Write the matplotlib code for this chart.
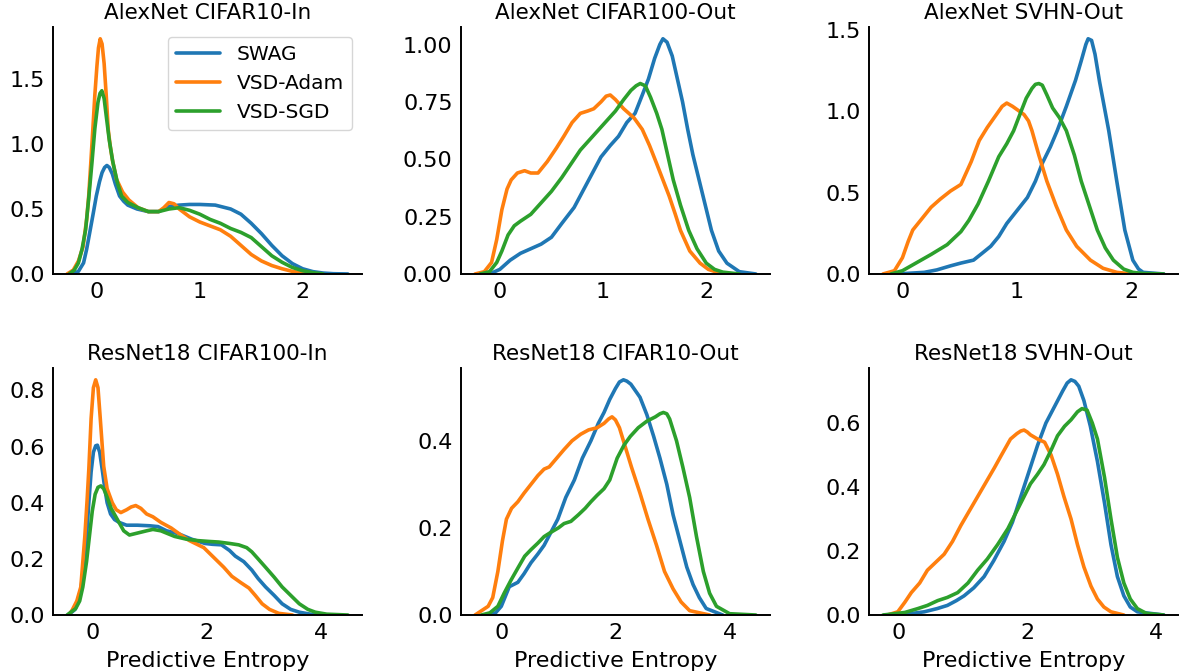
import matplotlib.pyplot as plt
from matplotlib.ticker import MultipleLocator

plt.rcParams['font.family'] = ['DejaVu Sans']

# ---- data (density curves) ----
methods = ['SWAG', 'VSD-Adam', 'VSD-SGD']
colors = ['#1f77b4', '#ff7f0e', '#2ca02c']
titles = ['AlexNet CIFAR10-In', 'AlexNet CIFAR100-Out', 'AlexNet SVHN-Out',
          'ResNet18 CIFAR100-In', 'ResNet18 CIFAR10-Out', 'ResNet18 SVHN-Out']
y_steps = [0.5, 0.25, 0.5, 0.2, 0.2, 0.2]
x_steps = [1, 1, 1, 2, 2, 2]

# AlexNet CIFAR10-In
a10_swag_x = [-0.24, -0.18, -0.13, -0.1, -0.065, -0.035, -0.006, 0.025, 0.05, 0.075, 0.097, 0.12, 0.15,
              0.18, 0.22, 0.26, 0.3, 0.39, 0.5, 0.6, 0.7, 0.8, 0.9, 1.0, 1.15, 1.3, 1.4, 1.5, 1.6, 1.7,
              1.8, 1.9, 2.0, 2.1, 2.2, 2.3, 2.44]
a10_swag_y = [0, 0.02, 0.085, 0.19, 0.34, 0.47, 0.6, 0.71, 0.78, 0.82, 0.835, 0.82, 0.77,
              0.69, 0.6, 0.56, 0.53, 0.5, 0.48, 0.48, 0.52, 0.53, 0.535, 0.535, 0.53, 0.5, 0.46, 0.39, 0.31, 0.22,
              0.14, 0.08, 0.04, 0.018, 0.007, 0.002, 0]
a10_adam_x = [-0.29, -0.23, -0.18, -0.135, -0.1, -0.08, -0.06, -0.04, -0.02, 0, 0.015, 0.032, 0.05, 0.07,
              0.09, 0.11, 0.13, 0.15, 0.19, 0.25, 0.31, 0.4, 0.5, 0.6, 0.65, 0.7, 0.75, 0.8, 0.9, 1.0,
              1.1, 1.2, 1.3, 1.4, 1.5, 1.6, 1.7, 1.8, 1.9, 2.0, 2.1]
a10_adam_y = [0, 0.03, 0.1, 0.21, 0.42, 0.6, 0.85, 1.11, 1.38, 1.6, 1.74, 1.81, 1.77, 1.62,
              1.38, 1.11, 0.98, 0.88, 0.73, 0.63, 0.57, 0.51, 0.48, 0.48, 0.51, 0.55, 0.54, 0.5, 0.44, 0.4,
              0.37, 0.34, 0.29, 0.22, 0.15, 0.1, 0.065, 0.04, 0.02, 0.008, 0]
a10_sgd_x = [-0.27, -0.22, -0.18, -0.145, -0.11, -0.08, -0.048, -0.02, 0.01, 0.03, 0.048, 0.07, 0.09, 0.12,
             0.155, 0.2, 0.24, 0.3, 0.4, 0.5, 0.6, 0.7, 0.8, 0.9, 1.0, 1.1, 1.2, 1.3, 1.4, 1.5, 1.6, 1.7,
             1.8, 1.9, 2.0, 2.1, 2.2]
a10_sgd_y = [0, 0.03, 0.085, 0.19, 0.34, 0.58, 0.86, 1.12, 1.32, 1.39, 1.41, 1.35, 1.22, 1.03,
             0.86, 0.7, 0.6, 0.55, 0.51, 0.48, 0.48, 0.5, 0.51, 0.49, 0.46, 0.42, 0.39, 0.35, 0.32, 0.28, 0.21, 0.14,
             0.09, 0.05, 0.025, 0.01, 0]

# AlexNet CIFAR100-Out
a100_swag_x = [-0.1, 0, 0.1, 0.2, 0.3, 0.4, 0.5, 0.6, 0.72, 0.85, 0.98, 1.07, 1.15, 1.23, 1.31, 1.38,
               1.44, 1.5, 1.55, 1.58, 1.62, 1.67, 1.72, 1.77, 1.82, 1.87, 1.93, 1.99, 2.05, 2.12, 2.2,
               2.32, 2.48]
a100_swag_y = [0, 0.02, 0.06, 0.09, 0.11, 0.13, 0.16, 0.22, 0.29, 0.4, 0.51, 0.56, 0.6, 0.66, 0.7, 0.78,
               0.85, 0.94, 1.0, 1.025, 1.01, 0.95, 0.85, 0.75, 0.63, 0.52, 0.41, 0.3, 0.19, 0.1, 0.047,
               0.01, 0]
a100_adam_x = [-0.24, -0.15, -0.08, -0.03, 0.02, 0.07, 0.11, 0.17, 0.24, 0.3, 0.37, 0.46, 0.55, 0.62,
               0.7, 0.78, 0.85, 0.91, 0.98, 1.03, 1.07, 1.12, 1.2, 1.3, 1.38, 1.45, 1.52, 1.58, 1.64,
               1.7, 1.75, 1.84, 1.94, 2.02, 2.1, 2.2]
a100_adam_y = [0, 0.01, 0.05, 0.15, 0.28, 0.37, 0.41, 0.44, 0.45, 0.44, 0.44, 0.49, 0.55, 0.6,
               0.66, 0.7, 0.71, 0.72, 0.75, 0.775, 0.78, 0.76, 0.72, 0.68, 0.63, 0.56, 0.48, 0.41, 0.34,
               0.26, 0.19, 0.1, 0.047, 0.02, 0.008, 0]
a100_sgd_x = [-0.19, -0.1, -0.03, 0.02, 0.08, 0.14, 0.2, 0.3, 0.4, 0.5, 0.6, 0.69, 0.78, 0.88, 0.96,
              1.04, 1.12, 1.2, 1.27, 1.32, 1.36, 1.41, 1.46, 1.52, 1.57, 1.62, 1.68, 1.75, 1.83, 1.91,
              2.0, 2.08, 2.16, 2.32]
a100_sgd_y = [0, 0.01, 0.05, 0.1, 0.17, 0.21, 0.23, 0.26, 0.31, 0.36, 0.42, 0.48, 0.54, 0.59, 0.63,
              0.67, 0.71, 0.76, 0.8, 0.82, 0.83, 0.82, 0.77, 0.7, 0.63, 0.53, 0.41, 0.3, 0.19, 0.11,
              0.047, 0.02, 0.008, 0]

# AlexNet SVHN-Out
asv_swag_x = [-0.16, 0, 0.19, 0.3, 0.42, 0.51, 0.62, 0.7, 0.77, 0.84, 0.91, 1.0, 1.09, 1.16, 1.22, 1.29,
              1.35, 1.43, 1.51, 1.56, 1.6, 1.62, 1.65, 1.68, 1.72, 1.76, 1.8, 1.87, 1.94, 2.01, 2.06,
              2.1, 2.28]
asv_swag_y = [0, 0.002, 0.01, 0.025, 0.05, 0.067, 0.085, 0.13, 0.17, 0.23, 0.31, 0.39, 0.47, 0.57, 0.68, 0.78,
              0.88, 1.03, 1.19, 1.31, 1.41, 1.445, 1.435, 1.35, 1.18, 1.03, 0.88, 0.57, 0.27, 0.085, 0.03,
              0.01, 0]
asv_adam_x = [-0.17, -0.07, 0, 0.05, 0.09, 0.17, 0.25, 0.33, 0.42, 0.51, 0.6, 0.67, 0.74, 0.82, 0.87,
              0.91, 0.96, 1.02, 1.06, 1.1, 1.13, 1.19, 1.26, 1.34, 1.43, 1.52, 1.64, 1.75, 1.87, 2.01]
asv_adam_y = [0, 0.02, 0.1, 0.2, 0.27, 0.34, 0.41, 0.46, 0.51, 0.55, 0.69, 0.82, 0.9, 0.98, 1.03,
              1.05, 1.03, 1.0, 0.98, 0.94, 0.88, 0.73, 0.57, 0.42, 0.27, 0.17, 0.085, 0.035, 0.01, 0]
asv_sgd_x = [-0.1, 0, 0.1, 0.25, 0.39, 0.51, 0.58, 0.66, 0.75, 0.84, 0.91, 0.97, 1.03, 1.08, 1.13, 1.16,
             1.19, 1.22, 1.26, 1.31, 1.37, 1.43, 1.5, 1.56, 1.63, 1.7, 1.77, 1.84, 1.93, 2.01, 2.1, 2.28]
asv_sgd_y = [0, 0.02, 0.06, 0.12, 0.18, 0.26, 0.33, 0.43, 0.57, 0.72, 0.8, 0.88, 0.99, 1.08, 1.14, 1.165,
             1.17, 1.16, 1.1, 1.02, 0.96, 0.88, 0.73, 0.57, 0.42, 0.27, 0.16, 0.085, 0.03, 0.01, 0.003, 0]

# ResNet18 CIFAR100-In
r100_swag_x = [-0.42, -0.3, -0.2, -0.15, -0.1, -0.06, -0.02, 0.02, 0.06, 0.09, 0.13, 0.18, 0.22, 0.26,
               0.32, 0.39, 0.47, 0.6, 0.79, 1.0, 1.15, 1.3, 1.5, 1.74, 1.97, 2.1, 2.26, 2.4, 2.5, 2.65,
               2.79, 2.9, 3.03, 3.18, 3.32, 3.47, 3.62, 3.9]
r100_swag_y = [0, 0.02, 0.09, 0.17, 0.28, 0.4, 0.51, 0.58, 0.603, 0.605, 0.58, 0.51, 0.45, 0.4,
               0.36, 0.34, 0.33, 0.32, 0.32, 0.318, 0.315, 0.3, 0.29, 0.27, 0.255, 0.252, 0.25, 0.23, 0.21, 0.19,
               0.16, 0.13, 0.1, 0.07, 0.04, 0.02, 0.01, 0]
r100_adam_x = [-0.41, -0.35, -0.27, -0.2, -0.13, -0.09, -0.06, -0.02, 0.02, 0.06, 0.1, 0.14, 0.2, 0.26,
               0.35, 0.42, 0.5, 0.6, 0.68, 0.76, 0.85, 0.95, 1.06, 1.2, 1.38, 1.55, 1.7, 1.85, 1.95, 2.05,
               2.15, 2.3, 2.44, 2.6, 2.74, 2.85, 2.97, 3.1, 3.26, 3.5]
r100_adam_y = [0, 0.018, 0.05, 0.1, 0.28, 0.41, 0.52, 0.7, 0.81, 0.838, 0.81, 0.7, 0.53, 0.45,
               0.4, 0.375, 0.365, 0.375, 0.385, 0.39, 0.38, 0.36, 0.35, 0.33, 0.31, 0.285, 0.265, 0.25, 0.24, 0.22,
               0.2, 0.17, 0.138, 0.115, 0.096, 0.07, 0.04, 0.02, 0.006, 0]
r100_sgd_x = [-0.44, -0.29, -0.22, -0.165, -0.1, -0.05, 0.0, 0.05, 0.1, 0.15, 0.2, 0.26, 0.33, 0.44,
              0.55, 0.65, 0.75, 0.85, 0.95, 1.06, 1.2, 1.44, 1.65, 1.85, 2.05, 2.21, 2.4, 2.56, 2.7, 2.79,
              2.9, 3.03, 3.18, 3.32, 3.47, 3.62, 3.77, 3.9, 4.1, 4.47]
r100_sgd_y = [0, 0.023, 0.05, 0.1, 0.19, 0.28, 0.37, 0.43, 0.455, 0.46, 0.45, 0.42, 0.38, 0.34,
              0.3, 0.285, 0.29, 0.295, 0.3, 0.305, 0.3, 0.28, 0.27, 0.265, 0.262, 0.26, 0.255, 0.25, 0.24, 0.225,
              0.2, 0.17, 0.135, 0.1, 0.07, 0.04, 0.02, 0.01, 0.003, 0]

# ResNet18 CIFAR10-Out
r10_swag_x = [-0.29, -0.1, 0, 0.14, 0.29, 0.4, 0.52, 0.64, 0.75, 0.87, 0.99, 1.13, 1.28, 1.42, 1.57,
              1.7, 1.8, 1.9, 2.0, 2.07, 2.14, 2.2, 2.27, 2.35, 2.43, 2.55, 2.67, 2.78, 2.9, 3.01, 3.13,
              3.25, 3.36, 3.47, 3.59, 3.88]
r10_swag_y = [0, 0.005, 0.02, 0.065, 0.075, 0.095, 0.12, 0.14, 0.16, 0.19, 0.22, 0.27, 0.31, 0.36, 0.4,
              0.44, 0.465, 0.495, 0.52, 0.535, 0.54, 0.537, 0.53, 0.515, 0.5, 0.46, 0.41, 0.36, 0.3, 0.23, 0.17,
              0.11, 0.07, 0.04, 0.015, 0]
r10_adam_x = [-0.46, -0.23, -0.15, -0.06, 0.02, 0.09, 0.18, 0.29, 0.4, 0.52, 0.64, 0.75, 0.84, 0.97,
              1.1, 1.24, 1.39, 1.53, 1.68, 1.8, 1.88, 1.94, 2.0, 2.07, 2.14, 2.28, 2.43, 2.57, 2.72, 2.86,
              3.01, 3.15, 3.3, 3.65]
r10_adam_y = [0, 0.02, 0.04, 0.1, 0.17, 0.22, 0.245, 0.26, 0.28, 0.3, 0.32, 0.335, 0.34, 0.36,
              0.38, 0.4, 0.415, 0.425, 0.43, 0.44, 0.45, 0.455, 0.448, 0.43, 0.4, 0.34, 0.28, 0.22, 0.16, 0.1,
              0.06, 0.03, 0.01, 0]
r10_sgd_x = [-0.35, -0.2, -0.06, 0.05, 0.17, 0.3, 0.41, 0.52, 0.64, 0.75, 0.87, 1.0, 1.1, 1.22, 1.35,
             1.47, 1.57, 1.68, 1.8, 1.9, 2.03, 2.15, 2.26, 2.4, 2.55, 2.7, 2.78, 2.84, 2.9, 2.95, 3.07,
             3.18, 3.3, 3.42, 3.54, 3.65, 3.77, 4.0, 4.46]
r10_sgd_y = [0, 0.005, 0.02, 0.05, 0.08, 0.11, 0.135, 0.15, 0.165, 0.18, 0.19, 0.2, 0.21, 0.215, 0.23,
             0.245, 0.26, 0.275, 0.29, 0.31, 0.36, 0.39, 0.41, 0.43, 0.445, 0.455, 0.462, 0.465, 0.462, 0.45, 0.4,
             0.34, 0.27, 0.18, 0.1, 0.05, 0.02, 0.003, 0]

# ResNet18 SVHN-Out
rsv_swag_x = [-0.22, 0.1, 0.4, 0.6, 0.76, 0.9, 1.02, 1.17, 1.33, 1.48, 1.64, 1.77, 1.9, 2.03, 2.16,
              2.29, 2.42, 2.55, 2.62, 2.68, 2.74, 2.8, 2.88, 2.98, 3.09, 3.2, 3.3, 3.4, 3.5, 3.6, 3.71,
              4.12]
rsv_swag_y = [0, 0.002, 0.01, 0.02, 0.03, 0.045, 0.06, 0.085, 0.12, 0.17, 0.23, 0.29, 0.37, 0.45, 0.53,
              0.6, 0.65, 0.7, 0.725, 0.735, 0.73, 0.715, 0.67, 0.59, 0.48, 0.35, 0.22, 0.12, 0.06, 0.025, 0.01,
              0]
rsv_adam_x = [-0.17, -0.01, 0.1, 0.2, 0.33, 0.45, 0.58, 0.71, 0.84, 0.97, 1.1, 1.23, 1.36, 1.49, 1.6,
              1.74, 1.84, 1.9, 1.95, 2.0, 2.05, 2.16, 2.27, 2.37, 2.47, 2.57, 2.68, 2.78, 2.88, 2.99,
              3.09, 3.19, 3.3, 3.5]
rsv_adam_y = [0, 0.01, 0.04, 0.07, 0.1, 0.14, 0.165, 0.19, 0.23, 0.28, 0.325, 0.37, 0.415, 0.46, 0.5,
              0.55, 0.567, 0.575, 0.578, 0.572, 0.563, 0.55, 0.54, 0.5, 0.44, 0.37, 0.3, 0.22, 0.15, 0.09,
              0.05, 0.025, 0.01, 0]
rsv_sgd_x = [-0.24, 0.1, 0.3, 0.45, 0.61, 0.76, 0.92, 1.08, 1.23, 1.38, 1.54, 1.7, 1.85, 1.95, 2.05,
             2.16, 2.26, 2.37, 2.47, 2.58, 2.68, 2.78, 2.85, 2.93, 3.01, 3.09, 3.2, 3.3, 3.4, 3.5, 3.6,
             3.71, 3.85, 4.12]
rsv_sgd_y = [0, 0.008, 0.02, 0.03, 0.045, 0.055, 0.07, 0.1, 0.14, 0.175, 0.22, 0.27, 0.33, 0.37, 0.41,
             0.44, 0.47, 0.515, 0.56, 0.59, 0.61, 0.635, 0.645, 0.64, 0.6, 0.55, 0.43, 0.3, 0.18, 0.1, 0.05,
             0.02, 0.005, 0]

panels = [
    [(a10_swag_x, a10_swag_y), (a10_adam_x, a10_adam_y), (a10_sgd_x, a10_sgd_y)],
    [(a100_swag_x, a100_swag_y), (a100_adam_x, a100_adam_y), (a100_sgd_x, a100_sgd_y)],
    [(asv_swag_x, asv_swag_y), (asv_adam_x, asv_adam_y), (asv_sgd_x, asv_sgd_y)],
    [(r100_swag_x, r100_swag_y), (r100_adam_x, r100_adam_y), (r100_sgd_x, r100_sgd_y)],
    [(r10_swag_x, r10_swag_y), (r10_adam_x, r10_adam_y), (r10_sgd_x, r10_sgd_y)],
    [(rsv_swag_x, rsv_swag_y), (rsv_adam_x, rsv_adam_y), (rsv_sgd_x, rsv_sgd_y)],
]

fig = plt.figure(figsize=(11.79, 6.72), dpi=100)

lefts = [0.045, 0.391, 0.737]
bottoms = [0.5923, 0.0848]
w, h = 0.262, 0.3675

for i, curves in enumerate(panels):
    row, col = divmod(i, 3)
    ax = fig.add_axes([lefts[col], bottoms[row], w, h])
    for (xs, ys), name, c in zip(curves, methods, colors):
        ax.plot(xs, ys, color=c, lw=2.6, label=name,
                solid_joinstyle='round', solid_capstyle='round')
    ax.set_ylim(bottom=0)
    ax.set_title(titles[i], fontsize=15.5, pad=6)
    ax.xaxis.set_major_locator(MultipleLocator(x_steps[i]))
    ax.yaxis.set_major_locator(MultipleLocator(y_steps[i]))
    if y_steps[i] == 0.25:
        ax.yaxis.set_major_formatter(plt.FormatStrFormatter('%.2f'))
    else:
        ax.yaxis.set_major_formatter(plt.FormatStrFormatter('%.1f'))
    ax.tick_params(length=0, labelsize=16, pad=6)
    for s in ['top', 'right']:
        ax.spines[s].set_visible(False)
    for s in ['left', 'bottom']:
        ax.spines[s].set_linewidth(1.4)
        ax.spines[s].set_color('black')
    if row == 1:
        ax.set_xlabel('Predictive Entropy', fontsize=16, labelpad=5.5)
    if i == 0:
        ax.legend(loc='upper right', fontsize=14.5, handlelength=2.2,
                  edgecolor='#cccccc', fancybox=True)

fig.savefig('out.png', dpi=100)
